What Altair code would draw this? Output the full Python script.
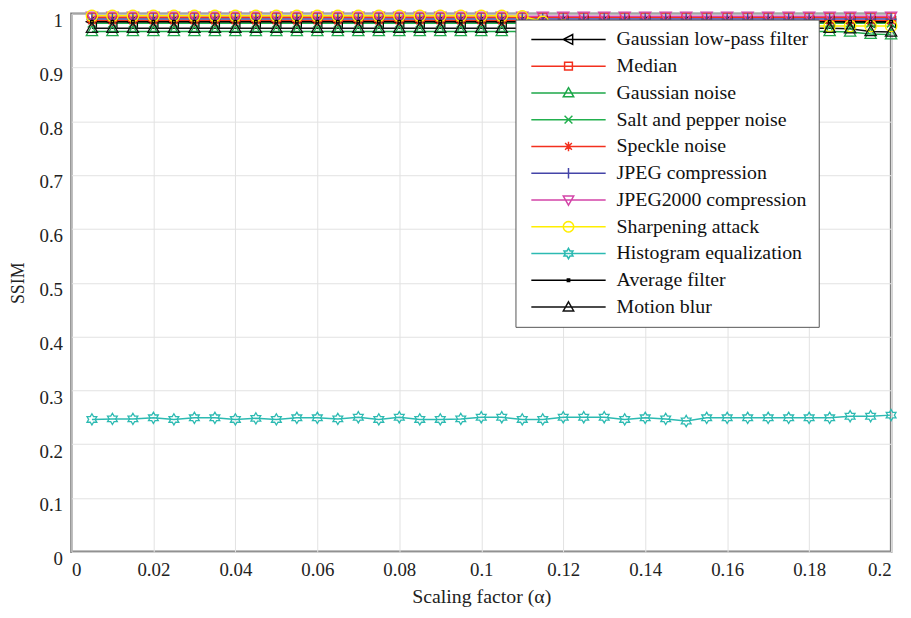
import math
import altair as alt
import pandas as pd

# ---------------- data ----------------
x_vals = [0.005, 0.010, 0.015, 0.020, 0.025, 0.030, 0.035, 0.040, 0.045, 0.050,
          0.055, 0.060, 0.065, 0.070, 0.075, 0.080, 0.085, 0.090, 0.095, 0.100,
          0.105, 0.110, 0.115, 0.120, 0.125, 0.130, 0.135, 0.140, 0.145, 0.150,
          0.155, 0.160, 0.165, 0.170, 0.175, 0.180, 0.185, 0.190, 0.195, 0.200]

series_names = ["Gaussian low-pass filter", "Median", "Gaussian noise",
                "Salt and pepper noise", "Speckle noise", "JPEG compression",
                "JPEG2000 compression", "Sharpening attack",
                "Histogram equalization", "Average filter", "Motion blur"]

gaussian_lowpass = [0.985, 0.985, 0.985, 0.985, 0.985, 0.985, 0.985, 0.985, 0.985, 0.985,
                    0.985, 0.985, 0.985, 0.985, 0.985, 0.985, 0.985, 0.985, 0.985, 0.985,
                    0.985, 0.985, 0.985, 0.985, 0.985, 0.985, 0.985, 0.985, 0.985, 0.985,
                    0.985, 0.985, 0.985, 0.985, 0.985, 0.985, 0.985, 0.984, 0.984, 0.984]
median = [0.993, 0.993, 0.993, 0.993, 0.993, 0.993, 0.993, 0.993, 0.993, 0.993,
          0.993, 0.993, 0.993, 0.993, 0.993, 0.993, 0.993, 0.993, 0.993, 0.993,
          0.993, 0.993, 0.993, 0.993, 0.993, 0.993, 0.993, 0.993, 0.993, 0.993,
          0.993, 0.993, 0.993, 0.993, 0.993, 0.993, 0.993, 0.993, 0.993, 0.993]
gaussian_noise = [0.967, 0.967, 0.967, 0.967, 0.967, 0.967, 0.967, 0.967, 0.967, 0.967,
                  0.967, 0.967, 0.967, 0.967, 0.967, 0.967, 0.967, 0.967, 0.967, 0.967,
                  0.967, 0.967, 0.967, 0.967, 0.967, 0.967, 0.967, 0.967, 0.967, 0.967,
                  0.967, 0.967, 0.967, 0.967, 0.967, 0.967, 0.967, 0.966, 0.962, 0.961]
salt_pepper = [0.982, 0.982, 0.982, 0.982, 0.982, 0.982, 0.982, 0.982, 0.982, 0.982,
               0.982, 0.982, 0.982, 0.982, 0.982, 0.982, 0.982, 0.982, 0.982, 0.982,
               0.982, 0.982, 0.982, 0.982, 0.982, 0.982, 0.982, 0.982, 0.982, 0.982,
               0.982, 0.982, 0.982, 0.982, 0.982, 0.982, 0.982, 0.982, 0.982, 0.982]
speckle = [0.987, 0.987, 0.987, 0.987, 0.987, 0.987, 0.987, 0.987, 0.987, 0.987,
           0.987, 0.987, 0.987, 0.987, 0.987, 0.987, 0.987, 0.987, 0.987, 0.987,
           0.987, 0.987, 0.987, 0.987, 0.987, 0.987, 0.987, 0.987, 0.987, 0.987,
           0.987, 0.987, 0.987, 0.987, 0.987, 0.987, 0.987, 0.987, 0.987, 0.987]
jpeg = [0.990, 0.990, 0.990, 0.990, 0.990, 0.990, 0.990, 0.990, 0.990, 0.990,
        0.990, 0.990, 0.990, 0.990, 0.990, 0.990, 0.990, 0.990, 0.990, 0.990,
        0.990, 0.990, 0.990, 0.990, 0.990, 0.990, 0.990, 0.990, 0.990, 0.990,
        0.990, 0.990, 0.990, 0.990, 0.990, 0.990, 0.990, 0.990, 0.990, 0.990]
jpeg2000 = [0.995, 0.995, 0.995, 0.995, 0.995, 0.995, 0.995, 0.995, 0.995, 0.995,
            0.995, 0.995, 0.995, 0.995, 0.995, 0.995, 0.995, 0.995, 0.995, 0.995,
            0.995, 0.995, 0.995, 0.995, 0.995, 0.995, 0.995, 0.995, 0.995, 0.995,
            0.995, 0.995, 0.995, 0.995, 0.995, 0.995, 0.995, 0.995, 0.995, 0.995]
sharpening = [0.996, 0.996, 0.996, 0.996, 0.996, 0.996, 0.996, 0.996, 0.996, 0.996,
              0.996, 0.996, 0.996, 0.996, 0.996, 0.996, 0.996, 0.996, 0.996, 0.996,
              0.996, 0.995, 0.985, 0.978, 0.977, 0.977, 0.977, 0.977, 0.977, 0.977,
              0.977, 0.977, 0.977, 0.977, 0.977, 0.977, 0.977, 0.977, 0.977, 0.977]
histogram_eq = [0.246, 0.247, 0.247, 0.249, 0.246, 0.249, 0.249, 0.246, 0.248, 0.246,
                0.249, 0.249, 0.247, 0.250, 0.246, 0.250, 0.246, 0.246, 0.247, 0.250,
                0.250, 0.246, 0.246, 0.250, 0.250, 0.250, 0.246, 0.249, 0.247, 0.243,
                0.249, 0.249, 0.249, 0.249, 0.249, 0.249, 0.249, 0.252, 0.252, 0.254]
average_filter = [0.985, 0.985, 0.985, 0.985, 0.985, 0.985, 0.985, 0.985, 0.985, 0.985,
                  0.985, 0.985, 0.985, 0.985, 0.985, 0.985, 0.985, 0.985, 0.985, 0.985,
                  0.985, 0.985, 0.985, 0.985, 0.985, 0.985, 0.985, 0.985, 0.985, 0.985,
                  0.985, 0.985, 0.985, 0.985, 0.985, 0.985, 0.985, 0.985, 0.985, 0.985]
motion_blur = [0.973, 0.973, 0.973, 0.973, 0.973, 0.973, 0.973, 0.973, 0.973, 0.973,
               0.973, 0.973, 0.973, 0.973, 0.973, 0.973, 0.973, 0.973, 0.973, 0.973,
               0.973, 0.973, 0.973, 0.973, 0.973, 0.973, 0.973, 0.973, 0.973, 0.973,
               0.973, 0.973, 0.973, 0.973, 0.973, 0.973, 0.973, 0.972, 0.967, 0.966]

series_values = [gaussian_lowpass, median, gaussian_noise, salt_pepper, speckle, jpeg,
                 jpeg2000, sharpening, histogram_eq, average_filter, motion_blur]

x_ticks = [0, 0.02, 0.04, 0.06, 0.08, 0.1, 0.12, 0.14, 0.16, 0.18, 0.2]
y_ticks = [0, 0.1, 0.2, 0.3, 0.4, 0.5, 0.6, 0.7, 0.8, 0.9, 1]

# ---------------- styles ----------------
colors = ["#000000", "#f3301e", "#1ea84a", "#22b04e", "#f3301e", "#4444a8",
          "#d444a8", "#ffee00", "#2cbab2", "#000000", "#111111"]
line_widths = [1.5, 1.5, 2.6, 1.5, 1.5, 1.5, 1.5, 1.5, 1.8, 1.5, 1.5]

circle_pts = [(math.cos(2 * math.pi * k / 20), math.sin(2 * math.pi * k / 20)) for k in range(20)]
hexagram_pts = [(0, -1), (0.289, -0.5), (0.866, -0.5), (0.577, 0), (0.866, 0.5), (0.289, 0.5),
                (0, 1), (-0.289, 0.5), (-0.866, 0.5), (-0.577, 0), (-0.866, -0.5), (-0.289, -0.5)]
markers = [
    [([(-1, 0), (0.8, -0.95), (0.8, 0.95)], True)],                       # triangle left
    [([(-0.75, -0.75), (0.75, -0.75), (0.75, 0.75), (-0.75, 0.75)], True)],  # square
    [([(0, -1), (1, 0.75), (-1, 0.75)], True)],                           # triangle up
    [([(-0.75, -0.75), (0.75, 0.75)], False), ([(-0.75, 0.75), (0.75, -0.75)], False)],  # x
    [([(-0.9, 0), (0.9, 0)], False), ([(0, -0.9), (0, 0.9)], False),
     ([(-0.65, -0.65), (0.65, 0.65)], False), ([(-0.65, 0.65), (0.65, -0.65)], False)],   # asterisk
    [([(-1, 0), (1, 0)], False), ([(0, -1), (0, 1)], False)],             # plus
    [([(0, 1), (1, -0.75), (-1, -0.75)], True)],                          # triangle down
    [(circle_pts, True)],                                                 # circle
    [(hexagram_pts, True)],                                               # hexagram
    [([(-0.22, -0.22), (0.22, -0.22), (0.22, 0.22), (-0.22, 0.22)], True)],  # dot
    [([(0, -1), (1, 0.75), (-1, 0.75)], True)],                           # triangle up
]


def to_path(shape, dx=0.0, k=1.0):
    parts = []
    for pts, closed in shape:
        s = "M" + "L".join(f"{px * k + dx:.3f},{py * k:.3f}" for px, py in pts)
        if closed:
            s += "Z"
        parts.append(s)
    return "".join(parts)


marker_paths = [to_path(m) for m in markers]
legend_paths = ["M-0.8,0L14.2,0" + to_path(m, 6.7, 1.05) for m in markers]
legend_widths = [1.5, 1.5, 2.6, 1.5, 1.5, 1.5, 1.5, 1.5, 1.5, 1.5, 1.5]

rows = []
for name, vals in zip(series_names, series_values):
    for xv, yv in zip(x_vals, vals):
        rows.append({"series": name, "x": xv, "y": yv})
df = pd.DataFrame(rows)

FONT = "Liberation Serif"

x_enc = alt.X("x:Q", scale=alt.Scale(domain=[0, 0.2], nice=False, zero=False),
              axis=alt.Axis(values=x_ticks, format="~g", title="Scaling factor (α)",
                            grid=True, domain=False, ticks=False, labelPadding=9,
                            titlePadding=7, titleFontSize=20))
y_enc = alt.Y("y:Q", scale=alt.Scale(domain=[0, 1], nice=False),
              axis=alt.Axis(values=y_ticks, format="~g", title="SSIM",
                            grid=True, domain=False, ticks=False, labelPadding=9,
                            labelOffset=7, titlePadding=12, titleFontSize=18))

color_scale = alt.Scale(domain=series_names, range=colors)

legend = alt.Legend(
    title=None, orient="none", legendX=448, legendY=6,
    symbolSize=100, symbolFillColor="transparent",
    labelFont=FONT, labelFontSize=20, labelColor="#111", labelOffset=72, labelLimit=400,
    rowPadding=7, padding=10, strokeColor="#555555", fillColor="#ffffff",
)

base = alt.Chart(df)

lines = base.mark_line().encode(
    x=x_enc, y=y_enc,
    color=alt.Color("series:N", scale=color_scale, sort=series_names, legend=None),
    strokeWidth=alt.StrokeWidth("series:N", scale=alt.Scale(domain=series_names, range=line_widths),
                                legend=None),
)

points = base.mark_point(size=130, strokeWidth=1.3, filled=False, opacity=1).encode(
    x=x_enc, y=y_enc,
    color=alt.Color("series:N", scale=color_scale, sort=series_names, legend=None),
    shape=alt.Shape("series:N", scale=alt.Scale(domain=series_names, range=marker_paths),
                    legend=None),
)

legend_layer = base.mark_point(size=100, filled=False, opacity=1).encode(
    x=x_enc, y=y_enc,
    color=alt.Color("series:N", scale=color_scale, sort=series_names, legend=legend),
    shape=alt.Shape("series:N", scale=alt.Scale(domain=series_names, range=legend_paths),
                    sort=series_names, legend=legend),
    strokeWidth=alt.StrokeWidth("series:N", scale=alt.Scale(domain=series_names, range=legend_widths),
                                sort=series_names, legend=legend),
).transform_filter("false")

chart = alt.layer(lines, points, legend_layer).resolve_scale(
    color="independent", shape="independent", strokeWidth="independent"
).resolve_legend(
    color="independent", shape="independent", strokeWidth="independent"
).properties(
    width=827, height=543,
    autosize=alt.AutoSizeParams(type="none"),
    padding={"left": 64, "top": 3, "right": 12, "bottom": 56},
).configure_axis(
    labelFont=FONT, titleFont=FONT, labelFontSize=19, titleFontSize=19,
    titleFontWeight="normal", labelColor="#222222", titleColor="#222222",
    gridColor="#e2e2e2", gridWidth=1,
).configure_view(
    stroke="#808080", strokeWidth=2.5,
)

chart.save("out.html", embed_options={"renderer": "svg", "actions": False})
